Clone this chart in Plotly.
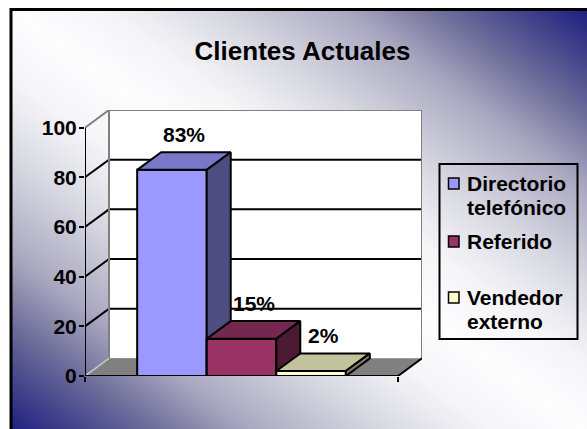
import base64
import plotly.graph_objects as go

# ---------------- data ----------------
chart_title = "Clientes Actuales"
series_names = ["Directorio telefónico", "Referido", "Vendedor externo"]
values = [83, 15, 2]
value_labels = ["83%", "15%", "2%"]
y_ticks = [0, 20, 40, 60, 80, 100]

# ---------------- styles ----------------
front_colors = ["#9999FF", "#993366", "#FFFFCC"]
top_colors = ["#7878C8", "#75284F", "#C2C29C"]
side_colors = ["#4D4D80", "#4D1A33", "#80806A"]
FONT = "Liberation Sans, Arial, sans-serif"

# 3-D geometry in axis units
CAT_W = 4.5      # one category = 3 bars + 150% gap
GAP = 0.75       # half gap on each side
DX = 0.345       # depth offset (x units)
DY = 7.1         # depth offset (y units)
Y_MAX = 100

# figure geometry (pixels)
W, H = 587, 429
ML, MR, MT, MB = 85, 165, 110, 53
PW, PH = W - ML - MR, H - MT - MB


def pxx(px):
    return (px - ML) / PW


def pxy(py):
    return (H - MB - py) / PH


fig = go.Figure()


def poly(xs, ys, fill, line_color="black", lw=2.0):
    fig.add_trace(go.Scatter(
        x=list(xs) + [xs[0]], y=list(ys) + [ys[0]], mode="lines", fill="toself",
        fillcolor=fill, line=dict(color=line_color, width=lw),
        hoverinfo="skip", showlegend=False, cliponaxis=False))


def line(xs, ys, color, lw=2.0):
    fig.add_trace(go.Scatter(
        x=xs, y=ys, mode="lines", line=dict(color=color, width=lw),
        hoverinfo="skip", showlegend=False, cliponaxis=False))


# back wall
poly([DX, CAT_W + DX, CAT_W + DX, DX], [DY, DY, Y_MAX + DY, Y_MAX + DY], "white", "white", 0)
# gridlines (front tick -> diagonal -> back wall)
gx, gy = [], []
for v in y_ticks[1:-1]:
    gx += [0, DX, CAT_W + DX, None]
    gy += [v, v + DY, v + DY, None]
line(gx, gy, "black", 2)
# gray wall edges
line([0, DX, CAT_W + DX, CAT_W + DX], [Y_MAX, Y_MAX + DY, Y_MAX + DY, DY], "#808080", 2)
line([DX, DX], [DY, Y_MAX + DY], "#808080", 2)
# floor
poly([0, CAT_W, CAT_W + DX, DX], [0, 0, DY, DY], "#808080", "#808080", 0)
line([0, DX], [0, DY], "#C8C8C8", 1.5)
line([CAT_W, CAT_W + DX], [0, DY], "black", 2)

# bars
for i, v in enumerate(values):
    x0 = GAP + i
    x1 = x0 + 1
    poly([x0, x1, x1, x0], [0, 0, v, v], front_colors[i])
    poly([x0, x1, x1 + DX, x0 + DX], [v, v, v + DY, v + DY], top_colors[i])
    poly([x1, x1 + DX, x1 + DX, x1], [0, DY, v + DY, v], side_colors[i])
    fig.add_annotation(x=x0 + 0.5 + DX / 2, y=v + DY, xref="x", yref="y",
                       text=value_labels[i], showarrow=False, yshift=18,
                       xanchor="center", yanchor="middle",
                       font=dict(family=FONT, size=21, color="black", weight="bold"))

# front axis lines
line([0, 0], [0, Y_MAX], "black", 2)
line([0, CAT_W], [0, 0], "black", 2)

# ---------------- background gradient ----------------
stops = [
    (0.00, "rgb(28,28,128)"),
    (0.07, "rgb(70,70,140)"),
    (0.135, "rgb(112,112,156)"),
    (0.215, "rgb(170,168,192)"),
    (0.325, "rgb(215,215,225)"),
    (0.42, "rgb(245,245,248)"),
    (0.50, "rgb(253,253,254)"),
    (0.58, "rgb(245,245,248)"),
    (0.675, "rgb(215,215,225)"),
    (0.785, "rgb(170,168,192)"),
    (0.865, "rgb(112,112,156)"),
    (0.93, "rgb(70,70,140)"),
    (1.00, "rgb(28,28,128)"),
]
stop_xml = "".join(f'<stop offset="{o}" stop-color="{c}"/>' for o, c in stops)
svg = ('<svg xmlns="http://www.w3.org/2000/svg" width="580" height="426" '
       'viewBox="0 0 580 426" preserveAspectRatio="none"><defs>'
       f'<linearGradient id="g" x1="0" y1="1" x2="1" y2="0">{stop_xml}</linearGradient>'
       '</defs><rect width="580" height="426" fill="url(#g)"/></svg>')
src = "data:image/svg+xml;base64," + base64.b64encode(svg.encode()).decode()
FX0, FY0, FX1, FY1 = 11, 9.5, 592, 436
fig.add_layout_image(dict(source=src, xref="paper", yref="paper",
                          x=pxx(FX0), y=pxy(FY0), sizex=(FX1 - FX0) / PW,
                          sizey=(FY1 - FY0) / PH, sizing="stretch",
                          xanchor="left", yanchor="top", layer="below"))
fig.add_shape(type="rect", xref="paper", yref="paper",
              x0=pxx(FX0), x1=pxx(FX1), y0=pxy(FY0), y1=pxy(FY1),
              line=dict(color="black", width=3))

# ---------------- legend (custom box) ----------------
fig.add_shape(type="rect", xref="paper", yref="paper",
              x0=pxx(439.5), x1=pxx(577.5), y0=pxy(164), y1=pxy(339),
              line=dict(color="black", width=2))
sq_centers = [183.5, 241.5, 297.5]
line_gap = 23.5
for i, name in enumerate(series_names):
    cy = sq_centers[i]
    fig.add_shape(type="rect", xref="paper", yref="paper",
                  x0=pxx(448.5), x1=pxx(459), y0=pxy(cy + 5.5), y1=pxy(cy - 5.5),
                  fillcolor=front_colors[i], line=dict(color="black", width=1.5))
    parts = name.split(" ")
    for j, part in enumerate(parts):
        fig.add_annotation(x=pxx(465), y=pxy(cy + j * line_gap), xref="paper", yref="paper",
                           text=part, showarrow=False, xanchor="left", yanchor="middle",
                           font=dict(family=FONT, size=21, color="black", weight="bold"))

fig.update_layout(
    width=W, height=H,
    margin=dict(l=ML, r=MR, t=MT, b=MB, pad=0),
    paper_bgcolor="white", plot_bgcolor="rgba(0,0,0,0)",
    showlegend=False,
    title=dict(text=chart_title, x=302.5 / W, xref="container", xanchor="center",
               y=1 - 50.5 / H, yref="container", yanchor="middle",
               font=dict(family=FONT, size=26, color="black", weight="bold")),
    xaxis=dict(range=[0, CAT_W + DX], showgrid=False, zeroline=False, showline=False,
               tickvals=[0, CAT_W], ticks="outside", ticklen=5, tickwidth=2,
               tickcolor="black", showticklabels=False, fixedrange=True, automargin=False),
    yaxis=dict(range=[0, Y_MAX + DY], showgrid=False, zeroline=False, showline=False,
               tickvals=y_ticks, ticks="outside", ticklen=5, tickwidth=2,
               tickcolor="black", fixedrange=True, automargin=False,
               ticklabelstandoff=-2,
               tickfont=dict(family=FONT, size=21, color="black", weight="bold")),
)

fig.write_html("out.html", config={"displayModeBar": False})
